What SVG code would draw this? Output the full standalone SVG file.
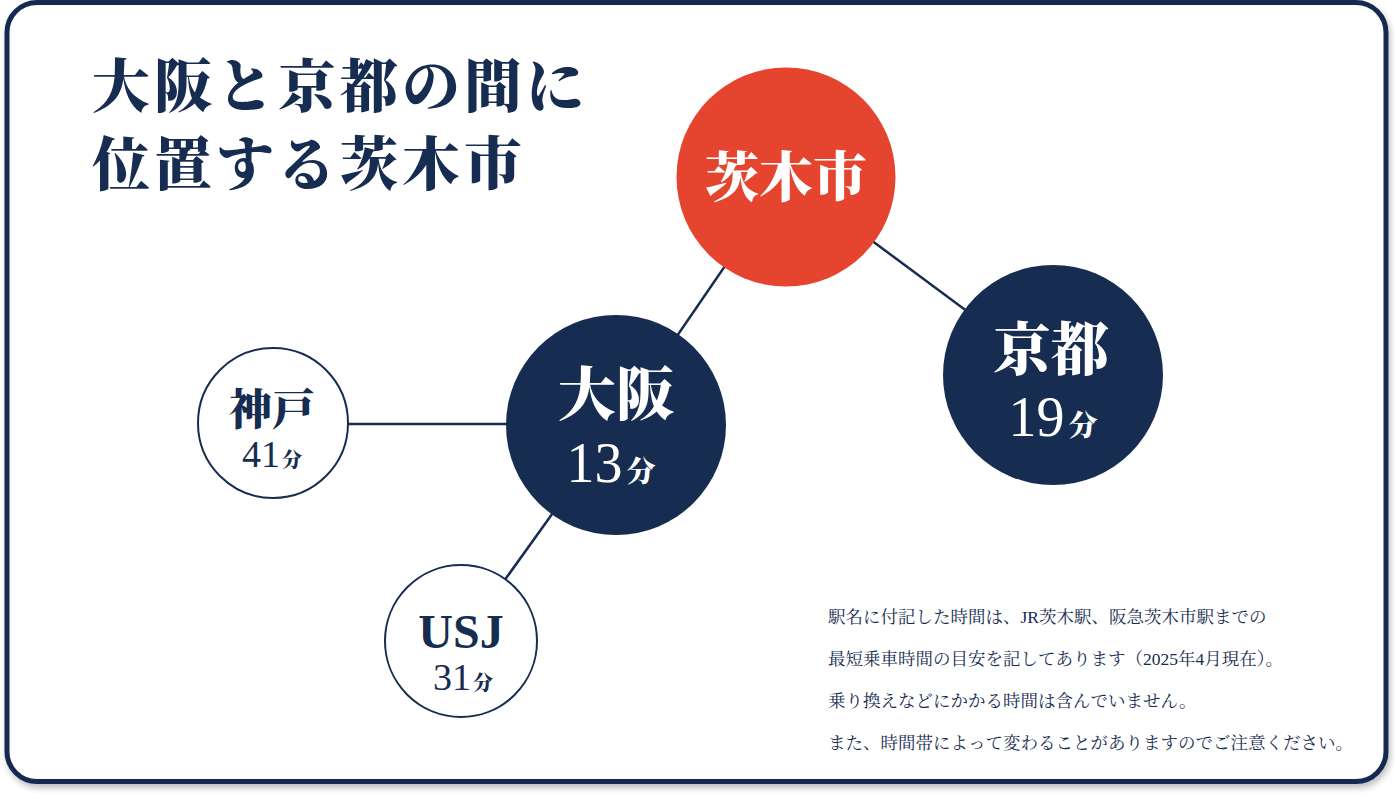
<svg xmlns="http://www.w3.org/2000/svg" width="1395" height="796" viewBox="0 0 1395 796">
<defs>
<filter id="sh" x="-5%" y="-5%" width="110%" height="110%">
<feDropShadow dx="2" dy="4" stdDeviation="3" flood-color="#000" flood-opacity="0.25"/>
</filter>
<style>
.jp{font-family:"Noto Serif CJK JP","Noto Sans CJK JP",serif;font-weight:900}
.num{font-family:"Liberation Serif","Noto Sans CJK JP",serif}
.navy{fill:#172c51}
.white{fill:#ffffff}
.conn{stroke:#172c51;stroke-width:2.5;fill:none}
.note{font-family:"Liberation Serif","Noto Serif CJK JP","Noto Sans CJK JP",serif;font-size:17.5px;fill:#172c51}
</style>
</defs>
<rect x="0" y="0" width="1395" height="796" fill="#ffffff"/>
<rect x="7" y="2.5" width="1379" height="779" rx="30" ry="30" fill="#ffffff" stroke="#172c51" stroke-width="5" filter="url(#sh)"/>

<g id="title" class="jp navy" font-size="58" letter-spacing="4">
<text x="92" y="107">大阪と京都の間に</text>
<text x="92" y="185">位置する茨木市</text>
</g>

<g id="connectors">
<line class="conn" x1="786" y1="177" x2="616" y2="425"/>
<line class="conn" x1="786" y1="177" x2="1053" y2="375"/>
<line class="conn" x1="273" y1="424" x2="616" y2="424"/>
<line class="conn" x1="616" y1="425" x2="461" y2="641"/>
</g>

<g id="ibaraki">
<circle cx="786" cy="177" r="109.5" fill="#e5442f"/>
<text class="jp white" x="786" y="197" font-size="54" text-anchor="middle">茨木市</text>
</g>

<g id="kyoto">
<circle cx="1053" cy="375" r="110" fill="#172c51"/>
<text class="jp white" x="1051" y="370" font-size="58" text-anchor="middle">京都</text>
<text x="1053" y="436" text-anchor="middle" class="white"><tspan class="num" font-size="56">19</tspan><tspan class="jp" font-size="29" dx="4">分</tspan></text>
</g>

<g id="osaka">
<circle cx="616" cy="425" r="110" fill="#172c51"/>
<text class="jp white" x="616" y="415" font-size="58" text-anchor="middle">大阪</text>
<text x="611" y="482" text-anchor="middle" class="white"><tspan class="num" font-size="56">13</tspan><tspan class="jp" font-size="29" dx="4">分</tspan></text>
</g>

<g id="kobe">
<circle cx="273" cy="423" r="75" fill="#ffffff" stroke="#172c51" stroke-width="2"/>
<text class="jp navy" x="272" y="425" font-size="43" text-anchor="middle">神戸</text>
<text x="272" y="467" text-anchor="middle" class="navy"><tspan class="num" font-size="38">41</tspan><tspan class="jp" font-size="20" dx="2">分</tspan></text>
</g>

<g id="usj">
<circle cx="461" cy="641" r="76" fill="#ffffff" stroke="#172c51" stroke-width="2"/>
<text class="num navy" x="461" y="648" font-size="48" font-weight="bold" text-anchor="middle">USJ</text>
<text x="463" y="690" text-anchor="middle" class="navy"><tspan class="num" font-size="38">31</tspan><tspan class="jp" font-size="20" dx="2">分</tspan></text>
</g>

<g id="note" class="note">
<text x="828" y="623">駅名に付記した時間は、JR茨木駅、阪急茨木市駅までの</text>
<text x="828" y="665">最短乗車時間の目安を記してあります（2025年4月現在）。</text>
<text x="828" y="707">乗り換えなどにかかる時間は含んでいません。</text>
<text x="828" y="749">また、時間帯によって変わることがありますのでご注意ください。</text>
</g>
</svg>
